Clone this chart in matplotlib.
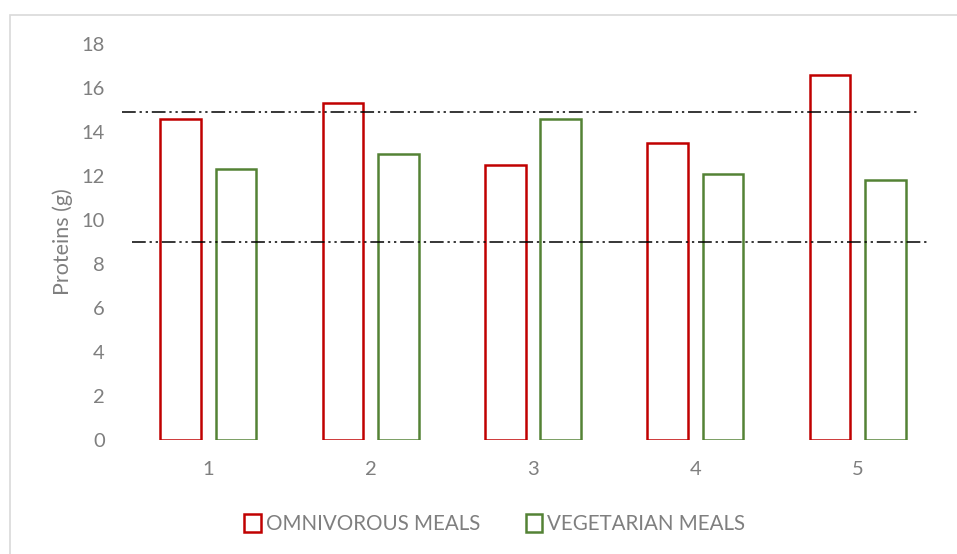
import numpy as np
import matplotlib.pyplot as plt
from matplotlib.patches import Rectangle

# === DATA ===
meals = [1, 2, 3, 4, 5]
omnivorous = [14.6, 15.3, 12.5, 13.5, 16.6]
vegetarian = [12.3, 13.0, 14.6, 12.1, 11.8]
ref_levels = [14.9, 9.0]
y_ticks = [0, 2, 4, 6, 8, 10, 12, 14, 16, 18]

red = "#C00000"
green = "#548235"
gray = "#7F7F7F"

plt.rcParams["font.family"] = ["Lato", "DejaVu Sans"]

fig = plt.figure(figsize=(9.57, 5.54), dpi=100)
ax = fig.add_axes([0.1327, 0.2058, 0.8485, 0.7148])

# light chart border
fig.patches.append(Rectangle((10 / 957, -0.05), 1.2, 1 - 15 / 554 + 0.05,
                             transform=fig.transFigure, fill=False,
                             edgecolor="#D9D9D9", linewidth=1.2))

x = np.array(meals)
w = 0.25
ax.bar(x - 0.17, omnivorous, w, facecolor="white", edgecolor=red, linewidth=1.8,
       label="OMNIVOROUS MEALS")
ax.bar(x + 0.17, vegetarian, w, facecolor="white", edgecolor=green, linewidth=1.8,
       label="VEGETARIAN MEALS")

# dash-dot-dot reference lines
spans = [(-0.006, 0.973), (0.006, 0.985)]
for lvl, (a, b) in zip(ref_levels, spans):
    ax.axhline(lvl, xmin=a, xmax=b, color="black", linewidth=1.1,
               linestyle=(0, (9, 2.5, 1.5, 2.5, 1.5, 2.5)), clip_on=False, zorder=3)

ax.set_xlim(0.5, 5.5)
ax.set_ylim(0, 18)
ax.set_xticks(meals)
ax.set_yticks(y_ticks)
ax.tick_params(axis="both", length=0, colors=gray, labelsize=14.5)
ax.tick_params(axis="y", pad=16)
ax.tick_params(axis="x", pad=15)
for s in ax.spines.values():
    s.set_visible(False)

ax.set_ylabel("Proteins (g)", color=gray, fontsize=15.5, labelpad=6)

fig.legend(loc="center", bbox_to_anchor=(0.517, 0.054), ncol=2, frameon=False,
           fontsize=14.8, labelcolor=gray, handlelength=0.8, handleheight=0.95,
           handletextpad=0.25, columnspacing=2.2)

plt.savefig("out.png", dpi=100)
